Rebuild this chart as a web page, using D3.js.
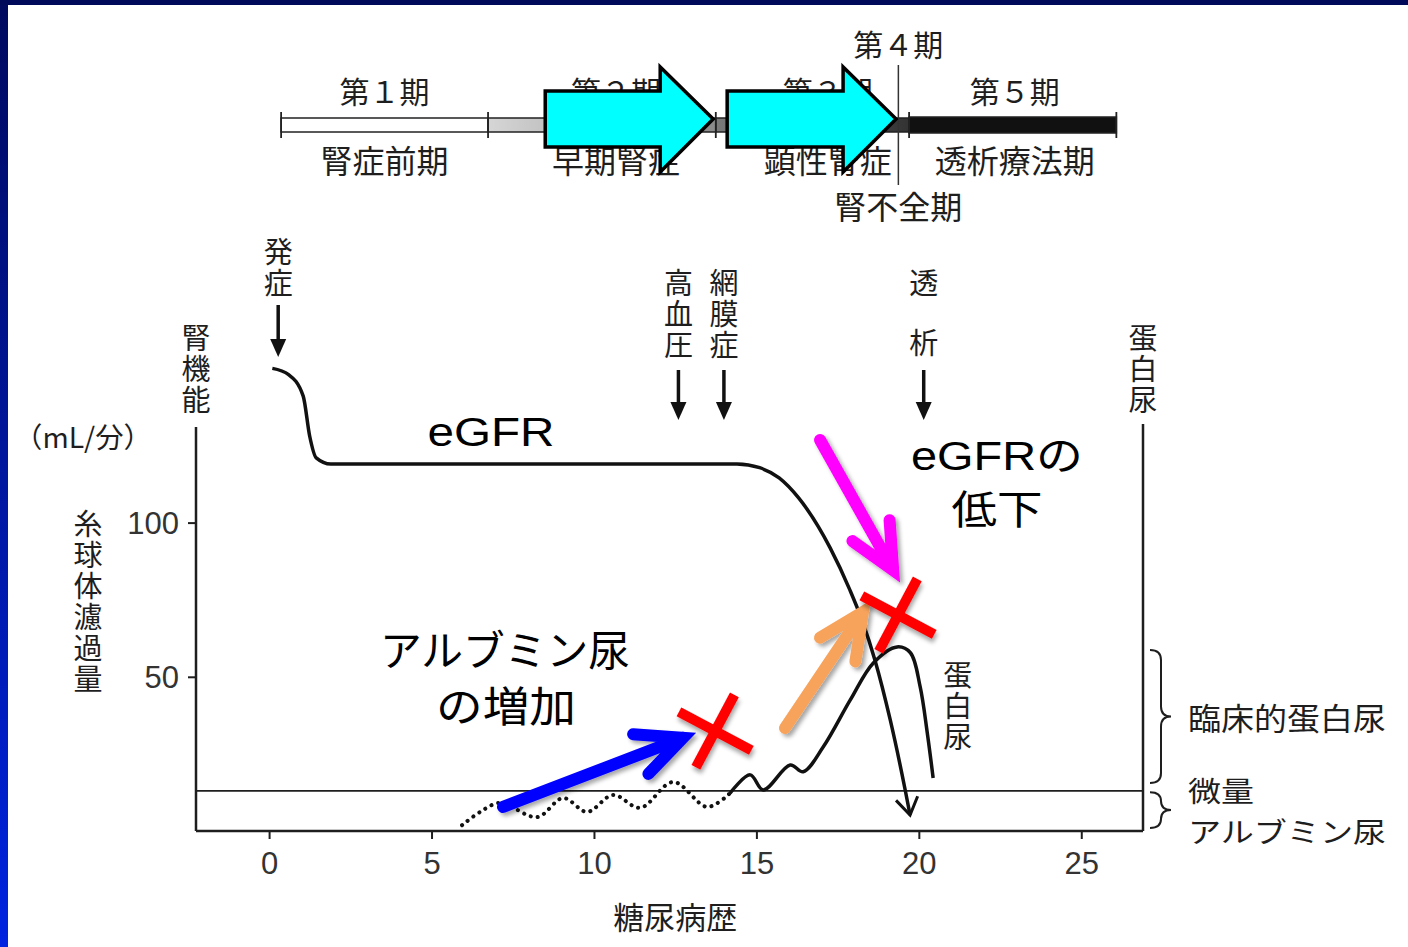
<!DOCTYPE html>
<html>
  <head>
    <meta charset="UTF-8" />
    <script src="https://cdnjs.cloudflare.com/ajax/libs/d3/7.8.5/d3.min.js"></script>
    <style>
      body { margin: 0; background: #fff; }
      svg { display: block; }
    </style>
  </head>
  <body>
    <div id="viz"><svg style="width:1408px;height:947px;"></svg></div>
    <script>
      // axis ticks
      const yearTicks = [0, 5, 10, 15, 20, 25];
      const gfrTicks = [50, 100];

      // eGFR curve (years, mL/min)
      const egfrYears = [0.1, 0.6, 1.05, 1.25, 1.45, 1.9, 14.4, 15.1, 15.7, 16.3, 17.27, 17.88, 18.25, 18.65, 19.12, 19.58, 19.73];
      const egfrValues = [150, 148, 141, 128, 121, 119, 119, 117.8, 114.5, 108, 91.8, 78.1, 68.4, 55.4, 36, 13.3, 5.2];

      // albuminuria (dotted part, then solid part)
      const albDotYears = [5.94, 6.5, 7.11, 8.25, 9.05, 9.79, 10.59, 11.42, 12.44, 13.49, 14.19];
      const albDotValues = [1.9, 6.2, 9.1, 4.5, 10.7, 6.2, 11.7, 7.5, 15.9, 7.8, 12.3];
      const albYears = [14.19, 14.81, 15.21, 16.04, 16.44, 17.06, 17.89, 18.6, 19.33, 19.74, 20.04, 20.26, 20.44];
      const albValues = [12.3, 18.2, 13.3, 21.4, 19.2, 27.3, 42.5, 54.5, 59.7, 57.8, 46.8, 31.8, 17.2];

      // stages on top bar
      const stageNames = ["第１期", "第２期", "第３期", "第４期", "第５期"];
      const stageSubs = ["腎症前期", "早期腎症", "顕性腎症", "腎不全期", "透析療法期"];
      const stageLabelYears = [3.55, 10.68, 17.2, 19.37, 22.95];
      const stageEdges = [0.37, 6.74, 13.75, 19.7, 26.08];
      const stageFills = ["#ffffff", "url(#st2)", "url(#st3)", "#111111"];
      const stage4Year = 19.37;

      // event markers
      const eventNames = ["発症", "高血圧", "網膜症", "透析"];
      const eventYears = [0.28, 12.6, 14.0, 20.15];

      // bracket ranges on right
      const bracketLabels = [["臨床的蛋白尿"], ["微量", "アルブミン尿"]];
      const bracketRanges = [[15.6, 58.7], [1, 12.6]];
      const microLevel = 13;

      // overlay annotations
      const crossYears = [13.73, 19.36];
      const crossValues = [32.4, 70.0];
      const arrowColors = ["#0000ff", "#f7a35c", "#ff00ff"];
      const arrowFrom = [[7.2, 7.8], [15.88, 33.4], [16.96, 126.8]];
      const arrowTo = [[12.74, 30.2], [18.28, 71.0], [19.21, 84.6]];
      const blockArrowFrom = [8.5, 14.1];
      const blockArrowTo = [13.67, 19.3];

      const svg = d3.select("svg");
      const jp = "'Noto Sans CJK JP', 'Noto Sans', sans-serif";
      const lat = "'Liberation Sans', Arial, 'Noto Sans CJK JP', sans-serif";
      const ink = "#1e1e1e";

      const defs = svg.append("defs");
      const bg = defs.append("linearGradient").attr("id", "side")
        .attr("x1", 0).attr("y1", 0).attr("x2", 0).attr("y2", 1);
      bg.append("stop").attr("offset", 0).attr("stop-color", "#000a5e");
      bg.append("stop").attr("offset", 1).attr("stop-color", "#0024e0");
      const g2 = defs.append("linearGradient").attr("id", "st2");
      g2.append("stop").attr("offset", 0).attr("stop-color", "#d6d6d6");
      g2.append("stop").attr("offset", 1).attr("stop-color", "#8a8a8a");
      const g3 = defs.append("linearGradient").attr("id", "st3");
      g3.append("stop").attr("offset", 0).attr("stop-color", "#7a7a7a");
      g3.append("stop").attr("offset", 1).attr("stop-color", "#333");
      const sh = defs.append("filter").attr("id", "shadow")
        .attr("x", "-30%").attr("y", "-30%").attr("width", "160%").attr("height", "160%");
      sh.append("feDropShadow").attr("dx", 3).attr("dy", 3).attr("stdDeviation", 2)
        .attr("flood-color", "#000").attr("flood-opacity", 0.35);
      defs.append("marker").attr("id", "openHead")
        .attr("markerUnits", "userSpaceOnUse").attr("orient", "auto")
        .attr("markerWidth", 40).attr("markerHeight", 40)
        .attr("viewBox", "-20 -20 40 40").attr("refX", 0).attr("refY", 0)
        .append("path").attr("d", "M-17,-11 L0,0 L-17,11")
        .attr("fill", "none").attr("stroke", "#111").attr("stroke-width", 3);

      // slide background + blue frame
      svg.append("rect").attr("width", 1408).attr("height", 947).attr("fill", "#fff");
      svg.append("rect").attr("width", 8).attr("height", 947).attr("fill", "url(#side)");
      svg.append("rect").attr("width", 1408).attr("height", 5).attr("fill", "#000a5a");

      const x = d3.scaleLinear().domain([-2.25, 26.9]).range([196, 1143]);
      const y = d3.scaleLinear().domain([0, 131]).range([831, 427]);

      // axes
      const xAxis = d3.axisBottom(x).tickValues(yearTicks).tickSize(8).tickPadding(9);
      const gx = svg.append("g").attr("transform", `translate(0,${y(0)})`).call(xAxis);
      const yAxis = d3.axisLeft(y).tickValues(gfrTicks).tickSize(8).tickPadding(9);
      const gy = svg.append("g").attr("transform", `translate(${x(-2.25)},0)`).call(yAxis);
      [gx, gy].forEach(g => {
        g.select(".domain").remove();
        g.selectAll(".tick line").attr("stroke", ink).attr("stroke-width", 2);
        g.selectAll(".tick text").attr("fill", "#333").attr("font-family", lat).attr("font-size", 31);
      });
      gx.selectAll(".tick text").attr("dy", "0.85em");
      gy.selectAll(".tick text").attr("dy", "0.36em");

      // frame lines
      svg.append("line").attr("x1", x(-2.25)).attr("x2", x(26.9)).attr("y1", y(0)).attr("y2", y(0))
        .attr("stroke", ink).attr("stroke-width", 2.5);
      svg.append("line").attr("x1", x(-2.25)).attr("x2", x(-2.25)).attr("y1", y(0)).attr("y2", y(131))
        .attr("stroke", ink).attr("stroke-width", 2.5);
      svg.append("line").attr("x1", x(26.9)).attr("x2", x(26.9)).attr("y1", y(0)).attr("y2", y(132))
        .attr("stroke", ink).attr("stroke-width", 2.5);
      svg.append("line").attr("x1", x(-2.25)).attr("x2", x(26.9)).attr("y1", y(microLevel)).attr("y2", y(microLevel))
        .attr("stroke", ink).attr("stroke-width", 1.8);

      // vertical text: one element, top-to-bottom
      function vText(cx, top, str, size, step, color) {
        return svg.append("text").attr("x", cx).attr("y", top - size / 2)
          .attr("style", "writing-mode: vertical-rl; text-orientation: upright;")
          .attr("letter-spacing", step - size)
          .attr("font-family", jp).attr("font-size", size).attr("fill", color || ink)
          .text(str);
      }
      function downArrow(cx, y1, y2) {
        svg.append("line").attr("x1", cx).attr("x2", cx).attr("y1", y1).attr("y2", y2 - 14)
          .attr("stroke", "#111").attr("stroke-width", 3.5);
        svg.append("path").attr("d", `M${cx - 8},${y2 - 18} L${cx + 8},${y2 - 18} L${cx},${y2} Z`)
          .attr("fill", "#111");
      }

      // axis titles
      vText(88, 524, "糸球体濾過量", 29, 31);
      vText(x(-2.25), 338, "腎機能", 29, 31);
      vText(x(26.9), 338, "蛋白尿", 29, 31);
      svg.append("text").attr("x", 83).attr("y", 436).attr("text-anchor", "middle")
        .attr("dominant-baseline", "central").attr("font-family", jp).attr("font-size", 28)
        .attr("textLength", 138).attr("lengthAdjust", "spacingAndGlyphs")
        .attr("fill", ink).text("（mL/分）");
      svg.append("text").attr("x", x(12.5)).attr("y", 915).attr("text-anchor", "middle")
        .attr("dominant-baseline", "central").attr("font-family", jp).attr("font-size", 31)
        .attr("fill", ink).text("糖尿病歴");

      // event markers
      eventNames.forEach((n, i) => {
        const cx = x(eventYears[i]);
        if (n === "透析") {
          vText(cx, 283, n, 29, 60);
          downArrow(cx, 370, 420);
        } else if (i === 0) {
          vText(cx, 252, n, 29, 31);
          downArrow(cx, 305, 357);
        } else {
          vText(cx, 283, n, 29, 31);
          downArrow(cx, 370, 420);
        }
      });

      // eGFR line
      const egfr = egfrYears.map((t, i) => [t, egfrValues[i]]);
      const line = d3.line().x(d => x(d[0])).y(d => y(d[1])).curve(d3.curveMonotoneX);
      svg.append("path").attr("d", line(egfr)).attr("fill", "none")
        .attr("stroke", "#111").attr("stroke-width", 3.5).attr("marker-end", "url(#openHead)");

      // albuminuria
      const albLine = d3.line().x(d => x(d[0])).y(d => y(d[1])).curve(d3.curveCatmullRom);
      svg.append("path").attr("d", albLine(albDotYears.map((t, i) => [t, albDotValues[i]])))
        .attr("fill", "none").attr("stroke", "#111").attr("stroke-width", 4)
        .attr("stroke-linecap", "round").attr("stroke-dasharray", "0.1,7");
      svg.append("path").attr("d", albLine(albYears.map((t, i) => [t, albValues[i]])))
        .attr("fill", "none").attr("stroke", "#111").attr("stroke-width", 3.5);
      vText(x(21.2), 675, "蛋白尿", 29, 31);

      // right brackets
      bracketRanges.forEach((r, i) => {
        const top = y(r[1]), bot = y(r[0]), mid = (top + bot) / 2;
        const x0 = x(26.9) + 7, x1 = x0 + 11, x2 = x0 + 21, k = Math.min(10, (bot - top) / 4);
        svg.append("path")
          .attr("d", `M${x0},${top} Q${x1},${top} ${x1},${top + k} L${x1},${mid - k} Q${x1},${mid} ${x2},${mid}` +
            ` Q${x1},${mid} ${x1},${mid + k} L${x1},${bot - k} Q${x1},${bot} ${x0},${bot}`)
          .attr("fill", "none").attr("stroke", ink).attr("stroke-width", 2);
        const lines = bracketLabels[i];
        const size = lines.length > 1 ? 28 : 31;
        lines.forEach((t, j) => {
          svg.append("text").attr("x", 1188).attr("y", mid + (j - (lines.length - 1) / 2) * 41)
            .attr("dominant-baseline", "central").attr("font-family", jp).attr("font-size", size)
            .attr("textLength", t.length * 33).attr("lengthAdjust", "spacingAndGlyphs")
            .attr("fill", ink).text(t);
        });
      });

      // top stage bar
      const barY = 125;
      stageEdges.slice(0, -1).forEach((s, i) => {
        const e = stageEdges[i + 1];
        const thick = i === 3;
        svg.append("rect").attr("x", x(s)).attr("y", barY - (thick ? 8 : 7))
          .attr("width", x(e) - x(s)).attr("height", thick ? 16 : 14)
          .attr("fill", stageFills[i]).attr("stroke", "#222").attr("stroke-width", 1.5);
        svg.append("line").attr("x1", x(s)).attr("x2", x(s)).attr("y1", barY - 13).attr("y2", barY + 13)
          .attr("stroke", "#222").attr("stroke-width", 1.8);
      });
      svg.append("line").attr("x1", x(stageEdges[4])).attr("x2", x(stageEdges[4]))
        .attr("y1", barY - 13).attr("y2", barY + 13).attr("stroke", "#222").attr("stroke-width", 1.8);
      svg.append("line").attr("x1", x(stage4Year)).attr("x2", x(stage4Year)).attr("y1", 65).attr("y2", 185)
        .attr("stroke", "#333").attr("stroke-width", 1.5);
      stageNames.forEach((n, i) => {
        const cx = x(stageLabelYears[i]);
        svg.append("text").attr("x", cx).attr("y", i === 3 ? 43 : 90).attr("text-anchor", "middle")
          .attr("dominant-baseline", "central").attr("font-family", jp).attr("font-size", 30)
          .attr("fill", ink).text(n);
        svg.append("text").attr("x", cx).attr("y", i === 3 ? 205 : 159).attr("text-anchor", "middle")
          .attr("dominant-baseline", "central").attr("font-family", jp).attr("font-size", 32)
          .attr("fill", ink).text(stageSubs[i]);
      });

      // cyan block arrows
      blockArrowFrom.forEach((s, i) => {
        const x0 = x(s), xt = x(blockArrowTo[i]), xh = xt - 53;
        svg.append("path")
          .attr("d", `M${x0},91 L${xh},91 L${xh},67 L${xt},119 L${xh},172 L${xh},147 L${x0},147 Z`)
          .attr("fill", "#00ffff").attr("stroke", "#000").attr("stroke-width", 3.5)
          .attr("stroke-linejoin", "miter");
      });

      // overlay texts
      function overlay(str, cx, cy, len, size) {
        svg.append("text").attr("x", cx).attr("y", cy).attr("text-anchor", "middle")
          .attr("dominant-baseline", "central").attr("font-family", lat).attr("font-size", size)
          .attr("textLength", len).attr("lengthAdjust", "spacingAndGlyphs")
          .attr("fill", "#000").text(str);
      }
      overlay("eGFR", 491, 432, 127, 40);
      overlay("eGFRの", 997, 456, 172, 40);
      overlay("低下", 997, 510, 91, 40);
      overlay("アルブミン尿", 505, 651, 250, 42);
      overlay("の増加", 506, 707, 140, 42);

      // colored arrows
      arrowFrom.forEach((f, i) => {
        const x0 = x(f[0]), y0 = y(f[1]), x1 = x(arrowTo[i][0]), y1 = y(arrowTo[i][1]);
        const a = Math.atan2(y0 - y1, x0 - x1), L = 50, w = 0.44;
        const p1 = [x1 + L * Math.cos(a + w), y1 + L * Math.sin(a + w)];
        const p2 = [x1 + L * Math.cos(a - w), y1 + L * Math.sin(a - w)];
        const g = svg.append("g").attr("filter", "url(#shadow)");
        g.append("path").attr("d", `M${x0},${y0} L${x1},${y1} M${p1[0]},${p1[1]} L${x1},${y1} L${p2[0]},${p2[1]}`)
          .attr("fill", "none").attr("stroke", arrowColors[i]).attr("stroke-width", 12)
          .attr("stroke-linejoin", "miter").attr("stroke-linecap", "round");
      });

      // red crosses
      crossYears.forEach((t, i) => {
        const cx = x(t), cy = y(crossValues[i]), r = 41;
        const g = svg.append("g").attr("filter", "url(#shadow)")
          .attr("transform", `translate(${cx},${cy}) rotate(28)`);
        g.append("path").attr("d", `M${-r},0 L${r},0 M0,${-r} L0,${r}`)
          .attr("stroke", "#ff0000").attr("stroke-width", 10);
      });
    </script>
  </body>
</html>
